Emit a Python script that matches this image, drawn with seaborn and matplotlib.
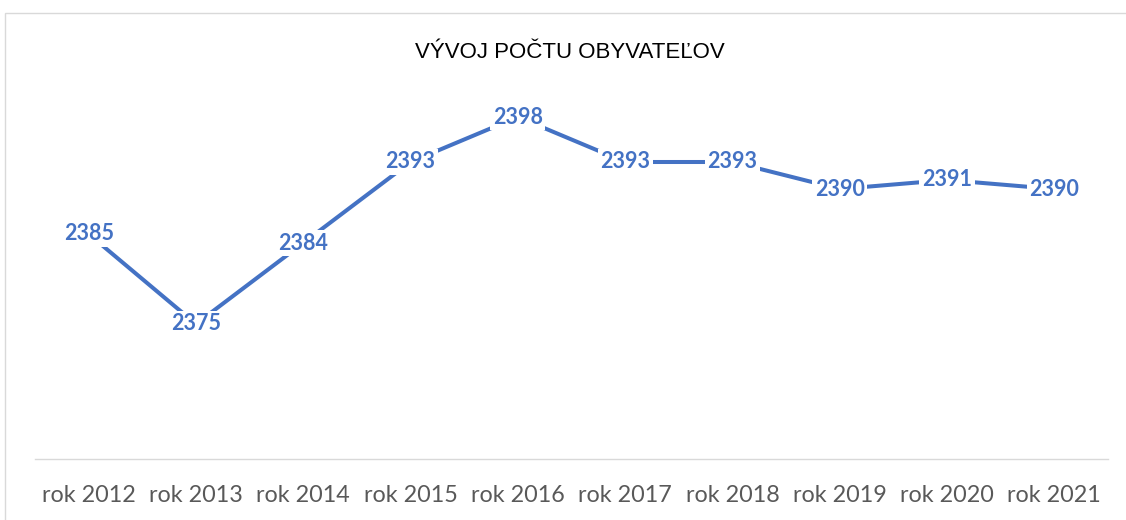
import matplotlib
matplotlib.use("Agg")
import matplotlib.pyplot as plt
import seaborn as sns
import pandas as pd
from matplotlib.patches import Rectangle

categories = ["rok 2012", "rok 2013", "rok 2014", "rok 2015", "rok 2016",
              "rok 2017", "rok 2018", "rok 2019", "rok 2020", "rok 2021"]
values = [2385, 2375, 2384, 2393, 2398, 2393, 2393, 2390, 2391, 2390]
title = "VÝVOJ POČTU OBYVATEĽOV"

sns.set_theme(style="white")
plt.rcParams['font.family'] = ['Lato', 'DejaVu Sans']

W, H = 1126, 520
fig = plt.figure(figsize=(W / 100, H / 100), dpi=100)

# chart border
fig.patches.append(Rectangle((5 / W, -0.1), 1.2, (H - 13) / H + 0.1,
                             transform=fig.transFigure, fill=False,
                             edgecolor="#D9D9D9", linewidth=1.0))

ax = fig.add_axes([35 / W, (H - 459) / H, (1108 - 35) / W, (459 - 99) / H])
df = pd.DataFrame({"rok": categories, "obyvatelia": values})
color = "#4472C4"
sns.lineplot(data=df, x="rok", y="obyvatelia", ax=ax, color=color,
             linewidth=2.9, sort=False)

ax.set_xlim(-0.5, len(categories) - 0.5)
ax.set_ylim(2360, 2400)
ax.set_xlabel("")
ax.set_ylabel("")
ax.set_yticks([])
for s in ["top", "right", "left"]:
    ax.spines[s].set_visible(False)
ax.spines["bottom"].set_color("#D9D9D9")
ax.spines["bottom"].set_linewidth(1.0)
ax.tick_params(axis="x", length=0, pad=19, labelsize=16.8, labelcolor="#595959")
ax.patch.set_alpha(0)

for i, v in enumerate(values):
    ax.text(i, v, str(v), ha="center", va="center", fontsize=15.5,
            fontweight="bold", color=color,
            bbox=dict(boxstyle="square,pad=0.12", fc="white", ec="none"))

fig.text(570 / W, (H - 52) / H, title, ha="center", va="center",
         fontsize=16, family=["Liberation Sans", "DejaVu Sans"], color="#000000")

fig.savefig("out.png", dpi=100, facecolor="white")
